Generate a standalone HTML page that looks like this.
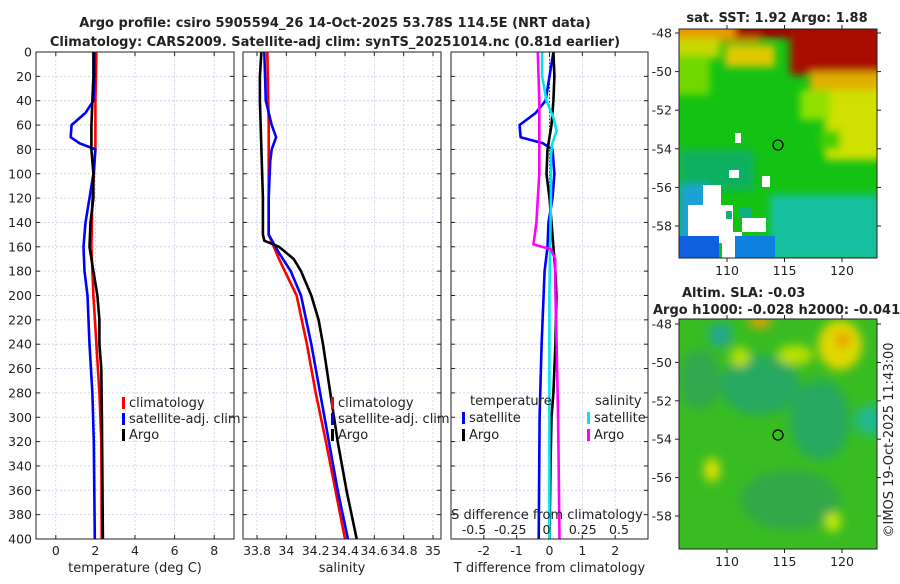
<!DOCTYPE html>
<html><head><meta charset="utf-8">
<style>
html,body{margin:0;padding:0;background:#fff;}
body{width:900px;height:580px;overflow:hidden;font-family:"DejaVu Sans","Liberation Sans",sans-serif;}
svg text{font-family:"DejaVu Sans","Liberation Sans",sans-serif;fill:#222;}
</style></head>
<body>
<svg id="fig" width="900" height="580" viewBox="0 0 900 580" xmlns="http://www.w3.org/2000/svg">
<defs>
<filter id="blur3" x="-50%" y="-50%" width="200%" height="200%"><feGaussianBlur stdDeviation="5"/></filter>
<filter id="blur2" x="-50%" y="-50%" width="200%" height="200%"><feGaussianBlur stdDeviation="4"/></filter>
<clipPath id="clipTop"><rect x="679" y="29" width="198" height="229"/></clipPath>
<clipPath id="clipBot"><rect x="679" y="319" width="198" height="230"/></clipPath>
</defs>
<text x="335" y="27" font-size="13" font-weight="bold" text-anchor="middle">Argo profile: csiro 5905594_26 14-Oct-2025 53.78S 114.5E (NRT data)</text>
<text x="335" y="46" font-size="13" font-weight="bold" text-anchor="middle">Climatology: CARS2009. Satellite-adj clim: synTS_20251014.nc (0.81d earlier)</text>

<g id="p1"></g>
<g id="p2"></g>
<g id="p3"></g>

<!-- SST map -->
<text x="777" y="22" font-size="13" font-weight="bold" text-anchor="middle">sat. SST: 1.92 Argo: 1.88</text>
<g clip-path="url(#clipTop)">
 <rect x="679" y="29" width="198" height="229" fill="#14c214"/>
 <g filter="url(#blur2)">
  <rect x="660" y="10" width="100" height="32" fill="#e89a00"/>
  <rect x="660" y="38" width="60" height="20" fill="#c8d800"/>
  <rect x="660" y="55" width="50" height="40" fill="#70d800"/>
  <rect x="725" y="45" width="50" height="22" fill="#e0c800"/>
  <rect x="735" y="10" width="160" height="28" fill="#a00000"/>
  <rect x="790" y="30" width="100" height="45" fill="#a80800"/>
  <rect x="810" y="72" width="80" height="22" fill="#e0b000"/>
  <rect x="825" y="90" width="60" height="70" fill="#d0e000"/>
  <rect x="800" y="90" width="30" height="30" fill="#90e000"/>
  <rect x="820" y="130" width="20" height="20" fill="#40d000"/>
  <rect x="679" y="150" width="75" height="40" fill="#10b060"/>
  <rect x="770" y="195" width="110" height="65" fill="#18c0a0"/>
  <rect x="679" y="185" width="30" height="75" fill="#1ea0d8"/>
 </g>
 <rect x="688" y="205" width="45" height="38" fill="#fff"/>
 <rect x="703" y="185" width="18" height="22" fill="#fff"/>
 <rect x="722" y="232" width="20" height="28" fill="#fff"/>
 <rect x="742" y="218" width="24" height="14" fill="#fff"/>
 <rect x="762" y="176" width="8" height="11" fill="#fff"/>
 <rect x="735" y="133" width="6" height="10" fill="#fff"/>
 <rect x="729" y="170" width="10" height="8" fill="#fff"/>
 <rect x="679" y="236" width="40" height="22" fill="#1060e0"/>
 <rect x="735" y="236" width="40" height="22" fill="#1080e0"/>
 <rect x="739" y="207" width="12" height="10" fill="#10b080"/>
 <rect x="726" y="211" width="6" height="8" fill="#10b080"/>
 <circle cx="778" cy="145" r="5" fill="none" stroke="#000" stroke-width="1.2"/>
</g>
<rect x="679" y="29" width="198" height="229" fill="none" stroke="#222"/>
<g id="mapTopAx"></g>

<text x="682" y="297" font-size="13" font-weight="bold">Altim. SLA: -0.03</text>
<text x="653" y="314" font-size="13" font-weight="bold">Argo h1000: -0.028 h2000: -0.041</text>
<g clip-path="url(#clipBot)">
 <rect x="679" y="319" width="198" height="230" fill="#38bc22"/>
 <g filter="url(#blur3)">
  <ellipse cx="760" cy="385" rx="40" ry="30" fill="#28a860"/>
  <ellipse cx="820" cy="420" rx="30" ry="40" fill="#28a860"/>
  <ellipse cx="870" cy="420" rx="15" ry="15" fill="#20b890"/>
  <ellipse cx="790" cy="500" rx="50" ry="30" fill="#30a848"/>
  <ellipse cx="700" cy="380" rx="20" ry="30" fill="#30a850"/>
  <ellipse cx="840" cy="345" rx="22" ry="25" fill="#e0d800"/>
  <ellipse cx="843" cy="340" rx="6" ry="8" fill="#e89000"/>
  <ellipse cx="760" cy="322" rx="12" ry="6" fill="#e8a000"/>
  <ellipse cx="795" cy="355" rx="18" ry="10" fill="#b8e000"/>
  <ellipse cx="740" cy="357" rx="10" ry="10" fill="#b8e000"/>
  <ellipse cx="712" cy="470" rx="8" ry="12" fill="#e0e000"/>
  <ellipse cx="833" cy="522" rx="8" ry="10" fill="#c8e800"/>
  <ellipse cx="720" cy="335" rx="12" ry="12" fill="#20a890"/>
 </g>
 <circle cx="778" cy="435" r="5" fill="none" stroke="#000" stroke-width="1.2"/>
</g>
<rect x="679" y="319" width="198" height="230" fill="none" stroke="#222"/>
<g id="mapBotAx"></g>
<text transform="translate(893,440) rotate(-90)" font-size="13" text-anchor="middle">©IMOS 19-Oct-2025 11:43:00</text>
</svg>
<script>
// ---- data ----
const depthTicks=[0,20,40,60,80,100,120,140,160,180,200,220,240,260,280,300,320,340,360,380,400];
const tTicks=[0,2,4,6,8];
const sTicks=[33.8,34,34.2,34.4,34.6,34.8,35];
const dTTicks=[-2,-1,0,1,2];
const dSTicks=[-0.5,-0.25,0,0.25,0.5];
const dSTickLabels=["-0.5","-0.25","0","0.25","0.5"];
const latTicks=[-48,-50,-52,-54,-56,-58];
const lonTicks=[110,115,120];

const tClimDepth=[0,40,80,120,160,200,240,280,320,400];
const tClim=[2.05,2.0,2.0,1.85,1.8,1.9,2.05,2.2,2.3,2.32];
const tSatDepth=[0,20,40,50,60,70,75,80,100,120,140,160,180,200,240,280,320,400];
const tSat=[1.95,1.95,1.9,1.5,0.8,0.75,1.2,2.0,1.9,1.7,1.5,1.4,1.45,1.6,1.7,1.85,1.92,1.97];
const tArgoDepth=[0,20,40,60,80,100,120,140,160,180,200,220,240,260,300,340,400];
const tArgo=[1.9,1.9,1.85,1.8,1.8,1.9,1.9,1.75,1.7,1.9,2.1,2.2,2.2,2.3,2.33,2.35,2.38];

const sClimDepth=[0,60,100,150,170,200,240,280,320,400];
const sClim=[33.87,33.88,33.88,33.88,33.95,34.07,34.14,34.2,34.27,34.4];
const sSatDepth=[0,40,60,70,80,90,120,150,165,180,200,240,280,320,360,400];
const sSat=[33.85,33.86,33.9,33.93,33.9,33.89,33.88,33.88,33.95,34.03,34.1,34.17,34.23,34.29,34.35,34.42];
const sArgoDepth=[0,20,40,80,120,150,155,160,170,180,200,220,240,280,320,360,400];
const sArgo=[33.83,33.82,33.82,33.83,33.84,33.84,33.85,33.95,34.05,34.1,34.17,34.22,34.25,34.3,34.35,34.41,34.48];

const dTSatDepth=[0,20,40,50,60,70,75,80,100,120,140,160,180,200,240,300,400];
const dTSat=[0.12,0,-0.12,-0.42,-0.91,-0.88,-0.2,0.09,0.15,0.09,-0.03,-0.06,-0.15,-0.18,-0.24,-0.3,-0.33];
const dTArgoDepth=[0,20,40,60,80,100,120,140,160,180,200,240,280,300,340,400];
const dTArgo=[0.12,0.15,0.12,0.06,-0.06,-0.09,0,0.06,0.12,0.18,0.21,0.18,0.12,0.06,0.03,0];
const dSSatDepth=[0,20,40,55,65,75,85,120,200,400];
const dSSat=[-0.03,-0.03,0,0.05,0.07,0.04,0.03,0.03,0.02,0.02];
const dSArgoDepth=[0,40,100,140,158,162,170,190,240,300,400];
const dSArgo=[-0.06,-0.05,-0.05,-0.07,-0.09,0.03,0.06,0.06,0.07,0.08,0.09];

// ---- helpers ----
const NS="http://www.w3.org/2000/svg";
function mk(tag,attrs,parent){const e=document.createElementNS(NS,tag);for(const k in attrs)e.setAttribute(k,attrs[k]);parent.appendChild(e);return e;}
const Y0=52,Y1=539;
const yS=d=>Y0+(d/400)*(Y1-Y0);
function lin(d0,d1,r0,r1){return v=>r0+(v-d0)/(d1-d0)*(r1-r0);}

function panel(g,x0,x1,xs,xTicks,xLabels,xTitle,showY){
  for(const t of xTicks){const x=xs(t);
    const gl=mk('line',{x1:x,x2:x,y1:Y0,y2:Y1,stroke:'#c8cce8','stroke-dasharray':'2,2','stroke-width':0.8},g);
    }
  for(const d of depthTicks){const y=yS(d);
    const gl=mk('line',{x1:x0,x2:x1,y1:y,y2:y,stroke:'#c8cce8','stroke-dasharray':'2,2','stroke-width':0.8},g);
    
    mk('line',{x1:x0,x2:x0+4,y1:y,y2:y,stroke:'#222'},g);mk('line',{x1:x1-4,x2:x1,y1:y,y2:y,stroke:'#222'},g);
    if(showY){const t=mk('text',{x:x0-4,y:y+4.5,'font-size':12.5,'text-anchor':'end'},g);t.textContent=d;
      }}
  xTicks.forEach((v,i)=>{const x=xs(v);
    mk('line',{x1:x,x2:x,y1:Y1,y2:Y1-4,stroke:'#222'},g);mk('line',{x1:x,x2:x,y1:Y0,y2:Y0+4,stroke:'#222'},g);
    const t=mk('text',{x:x,y:555,'font-size':12.5,'text-anchor':'middle'},g);t.textContent=xLabels[i];
    });
  const tt=mk('text',{x:(x0+x1)/2,y:572,'font-size':13,'text-anchor':'middle'},g);tt.textContent=xTitle;
  
}
function frame(g,x0,x1){const r=mk('rect',{x:x0,y:Y0,width:x1-x0,height:Y1-Y0,fill:'none',stroke:'#222','stroke-width':1},g);
  }
function series(g,depths,vals,xs,color,name){
  const pts=depths.map((d,i)=>xs(vals[i]).toFixed(1)+','+yS(d).toFixed(1)).join(' ');
  const p=mk('polyline',{points:pts,fill:'none',stroke:color,'stroke-width':2.6,'stroke-linejoin':'round'},g);
  }
function legend(g,x,y,color,label,name){
  mk('rect',{x:x,y:y-10,width:3,height:12,fill:color},g);
  const t=mk('text',{x:x+7,y:y,'font-size':13},g);t.textContent=label;
  }

// panel 1
const p1=document.getElementById('p1');const xs1=lin(-1,9,36,234);
panel(p1,36,234,xs1,tTicks,tTicks.map(String),'temperature (deg C)',true);
series(p1,tClimDepth,tClim,xs1,'#ff0000','temp-climatology-line');
series(p1,tSatDepth,tSat,xs1,'#0000ff','temp-satellite-line');
series(p1,tArgoDepth,tArgo,xs1,'#000000','temp-argo-line');
frame(p1,36,234);
legend(p1,122,407,'#ff0000','climatology','legend-climatology');
legend(p1,122,423,'#0000ff','satellite-adj. clim','legend-satellite-adj');
legend(p1,122,439,'#000000','Argo','legend-argo');

// panel 2
const p2=document.getElementById('p2');const xs2=lin(33.8,35,257,433);
panel(p2,243,441,xs2,sTicks,sTicks.map(String),'salinity',false);
series(p2,sClimDepth,sClim,xs2,'#ff0000','sal-climatology-line');
series(p2,sSatDepth,sSat,xs2,'#0000ff','sal-satellite-line');
series(p2,sArgoDepth,sArgo,xs2,'#000000','sal-argo-line');
frame(p2,243,441);
legend(p2,331,407,'#ff0000','climatology','legend-climatology');
legend(p2,331,423,'#0000ff','satellite-adj. clim','legend-satellite-adj');
legend(p2,331,439,'#000000','Argo','legend-argo');

// panel 3
const p3=document.getElementById('p3');const xs3=lin(-3,3,451,648);const xs3s=lin(-0.5,0.5,474,619);
panel(p3,451,648,xs3,dTTicks,dTTicks.map(String),'T difference from climatology',false);
const zl=mk('line',{x1:xs3(0),x2:xs3(0),y1:Y0,y2:Y1,stroke:'#333','stroke-dasharray':'1.5,2','stroke-width':1},p3);

series(p3,dTSatDepth,dTSat,xs3,'#0000ff','dT-satellite-line');
series(p3,dTArgoDepth,dTArgo,xs3,'#000000','dT-argo-line');
series(p3,dSSatDepth,dSSat,xs3s,'#00e5ee','dS-satellite-line');
series(p3,dSArgoDepth,dSArgo,xs3s,'#ff00ff','dS-argo-line');
frame(p3,451,648);
{const t=mk('text',{x:470,y:405,'font-size':13},p3);t.textContent='temperature';
 const t2=mk('text',{x:595,y:405,'font-size':13},p3);t2.textContent='salinity';}
legend(p3,462,422,'#0000ff','satellite','legend-t-satellite');
legend(p3,462,439,'#000000','Argo','legend-t-argo');
legend(p3,587,422,'#00e5ee','satellite','legend-s-satellite');
legend(p3,587,439,'#ff00ff','Argo','legend-s-argo');
{const t=mk('text',{x:547,y:519,'font-size':13,'text-anchor':'middle'},p3);t.textContent='S difference from climatology';
 }
dSTicks.forEach((v,i)=>{const t=mk('text',{x:xs3s(v),y:534,'font-size':12.5,'text-anchor':'middle'},p3);t.textContent=dSTickLabels[i];
  });

// map axes
function mapAx(id,top,bot,latY48,latStep){
  const g=document.getElementById(id);
  const lonX=lin(110,120,727,842);
  latTicks.forEach((lat,i)=>{const y=latY48+i*latStep;
    mk('line',{x1:679,x2:675,y1:y,y2:y,stroke:'#222'},g);mk('line',{x1:877,x2:881,y1:y,y2:y,stroke:'#222'},g);
    const t=mk('text',{x:672,y:y+4.5,'font-size':12.5,'text-anchor':'end'},g);t.textContent=lat;
    });
  lonTicks.forEach(lon=>{const x=lonX(lon);
    mk('line',{x1:x,x2:x,y1:bot,y2:bot+4,stroke:'#222'},g);mk('line',{x1:x,x2:x,y1:top,y2:top-4,stroke:'#222'},g);
    const t=mk('text',{x:x,y:bot+17,'font-size':12.5,'text-anchor':'middle'},g);t.textContent=lon;
    });
}
mapAx('mapTopAx',29,258,33,38.6);
mapAx('mapBotAx',319,549,324,38.4);
</script>
</body></html>
